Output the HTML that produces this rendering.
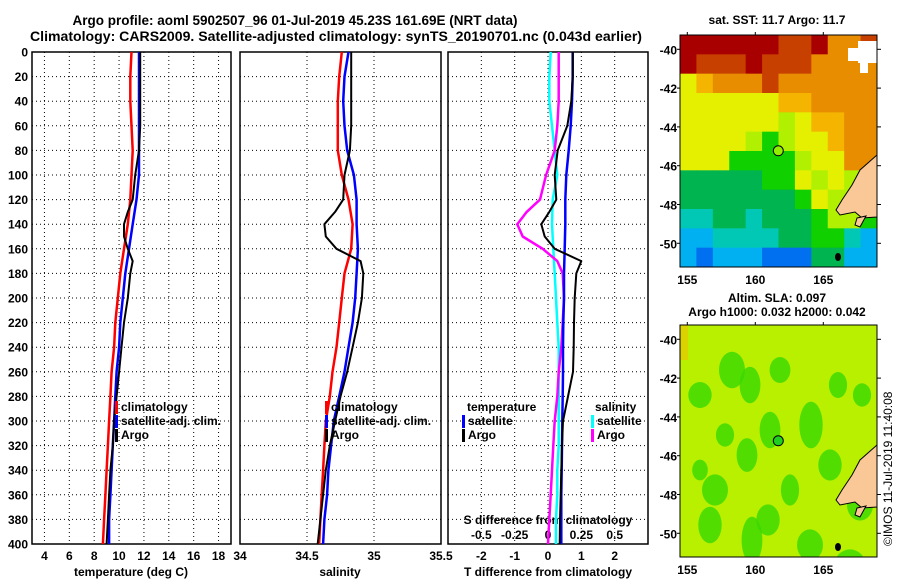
<!DOCTYPE html>
<html><head><meta charset="utf-8"><style>
body{margin:0;background:#fff}
svg{display:block;font-family:"Liberation Sans",sans-serif;font-weight:bold}
</style></head><body>
<svg id="c" width="900" height="580" viewBox="0 0 900 580">
<text x="295" y="25" text-anchor="middle" font-size="13.5">Argo profile: aoml 5902507_96 01-Jul-2019 45.23S 161.69E (NRT data)</text>
<text x="30" y="41" font-size="13.5" textLength="612" lengthAdjust="spacingAndGlyphs">Climatology: CARS2009. Satellite-adjusted climatology: synTS_20190701.nc (0.043d earlier)</text>
<text x="777" y="24" text-anchor="middle" font-size="12">sat. SST: 11.7 Argo: 11.7</text>
<text x="777" y="302" text-anchor="middle" font-size="12">Altim. SLA: 0.097</text>
<text x="777" y="316" text-anchor="middle" font-size="12">Argo h1000: 0.032 h2000: 0.042</text>
<text transform="translate(892,546) rotate(-90)" font-size="12" font-weight="normal">©IMOS 11-Jul-2019 11:40:08</text>
<g id="g"></g>
</svg>
<script>
// ---- data ----
const depths = [0,20,40,60,80,100,120,140,160,180,200,220,240,260,280,300,320,340,360,380,400];
const argoDepths = [0,20,40,60,80,100,120,130,140,150,160,170,180,200,220,240,260,280,300,320,340,360,380,400];
const tempClim = [11.0,10.9,10.9,11.0,11.1,11.0,10.9,10.7,10.4,10.1,9.9,9.7,9.6,9.4,9.3,9.2,9.1,9.0,8.9,8.8,8.7];
const tempSat = [11.6,11.6,11.6,11.6,11.6,11.6,11.4,11.1,10.8,10.5,10.3,10.1,10.0,9.8,9.7,9.6,9.5,9.4,9.3,9.2,9.2];
const tempArgo = [11.7,11.7,11.7,11.7,11.6,11.3,11.1,10.7,10.4,10.4,10.7,11.1,10.9,10.7,10.4,10.2,10.0,9.8,9.6,9.5,9.3,9.2,9.1,9.0];
const salClim = [34.76,34.74,34.73,34.73,34.73,34.76,34.81,34.84,34.83,34.78,34.76,34.74,34.72,34.69,34.67,34.64,34.63,34.62,34.61,34.60,34.59];
const salSat = [34.81,34.78,34.77,34.78,34.80,34.85,34.87,34.87,34.88,34.87,34.86,34.84,34.81,34.78,34.74,34.70,34.68,34.66,34.65,34.63,34.62];
const salArgo = [34.83,34.83,34.83,34.83,34.82,34.78,34.77,34.71,34.63,34.64,34.72,34.90,34.92,34.91,34.88,34.84,34.80,34.75,34.71,34.67,34.64,34.62,34.60,34.58];
const tDiffSat = [0.74,0.74,0.72,0.68,0.62,0.55,0.52,0.52,0.50,0.48,0.48,0.46,0.45,0.45,0.44,0.43,0.42,0.41,0.40,0.40,0.40];
const tDiffArgo = [0.74,0.74,0.70,0.58,0.29,0.20,0.25,0.04,-0.20,-0.10,0.20,1.00,0.85,0.80,0.78,0.77,0.75,0.60,0.45,0.42,0.40,0.38,0.36,0.35];
const sDiffSat = [0.02,0.01,0.01,0.03,0.05,0.07,0.035,0.03,0.04,0.05,0.06,0.07,0.08,0.08,0.08,0.08,0.08,0.07,0.07,0.06,0.06];
const sDiffArgo = [0.08,0.08,0.08,0.07,0.05,-0.014,-0.06,-0.16,-0.23,-0.19,-0.04,0.07,0.11,0.12,0.11,0.10,0.08,0.07,0.05,0.04,0.03,0.02,0.01,0.0];
const depthTicks = [0,20,40,60,80,100,120,140,160,180,200,220,240,260,280,300,320,340,360,380,400];
const tempTicks = [4,6,8,10,12,14,16,18];
const salTicks = [34,34.5,35,35.5];
const salTickLabels = ["34","34.5","35","35.5"];
const tdTicks = [-2,-1,0,1,2];
const sdTicks = [-0.5,-0.25,0,0.25,0.5];
const latTicks = [-40,-42,-44,-46,-48,-50];
const lonTicks = [155,160,165];
const argoLon = 161.69, argoLat = -45.23;

const NS="http://www.w3.org/2000/svg";
const G=document.getElementById('g');
function mk(tag,attrs,parent){const e=document.createElementNS(NS,tag);for(const k in attrs)e.setAttribute(k,attrs[k]);(parent||G).appendChild(e);return e;}
function txt(x,y,s,size,anchor,parent){const e=mk('text',{x:x,y:y,'font-size':size||12,'text-anchor':anchor||'middle'},parent);e.textContent=s;return e;}

const yTop=52,yBot=544;
const yD=d=>yTop+(d/400)*(yBot-yTop);
const panels=[{x0:32,x1:231,min:3,max:19},{x0:240,x1:441,min:34,max:35.5},{x0:448,x1:648,min:-3,max:3}];
function sx(p,v){return p.x0+(v-p.min)/(p.max-p.min)*(p.x1-p.x0);}

panels.forEach((p,i)=>{
  const grid=[tempTicks,[34.5,35],tdTicks][i];
  grid.forEach(v=>{const l=mk('line',{x1:sx(p,v),x2:sx(p,v),y1:yTop,y2:yBot,stroke:'#000','stroke-width':1,'stroke-dasharray':'1,3'});
    
    });
  depthTicks.slice(1,-1).forEach(d=>{const l=mk('line',{x1:p.x0,x2:p.x1,y1:yD(d),y2:yD(d),stroke:'#000','stroke-width':1,'stroke-dasharray':'1,3'});
    
    });
  const r=mk('rect',{x:p.x0,y:yTop,width:p.x1-p.x0,height:yBot-yTop,fill:'none',stroke:'#000','stroke-width':1.5});
  
  
});
depthTicks.forEach(d=>{const t=txt(28,yD(d)+4.5,String(d),12,'end');
  
  });
tempTicks.forEach(v=>{const t=txt(sx(panels[0],v),560,String(v),12);
  
  });
salTicks.forEach((v,i)=>{const t=txt(sx(panels[1],v),560,salTickLabels[i],12);
  
  });
tdTicks.forEach(v=>{const t=txt(sx(panels[2],v),560,String(v),12);
  
  });
const sp={x0:448,x1:648,min:-0.75,max:0.75};
sdTicks.forEach(v=>{const t=txt(sx(sp,v),539,String(v),12);
  
  });
let t;
t=txt(131,576,'temperature (deg C)',12);
t=txt(340,576,'salinity',12);
t=txt(548,576,'T difference from climatology',12);
t=txt(548,524,'S difference from climatology',12);

function line(p,vals,ds,color,w,name){
  const pts=vals.map((v,i)=>sx(p,v).toFixed(1)+','+yD(ds[i]).toFixed(1)).join(' ');
  const e=mk('polyline',{points:pts,fill:'none',stroke:color,'stroke-width':w,'stroke-linejoin':'round'});
  
  
}
line(panels[0],tempClim,depths,'#f00',2.5,'temp-climatology-line');
line(panels[0],tempSat,depths,'#00f',2.5,'temp-satellite-line');
line(panels[0],tempArgo,argoDepths,'#000',2,'temp-argo-line');
line(panels[1],salClim,depths,'#f00',2.5,'sal-climatology-line');
line(panels[1],salSat,depths,'#00f',2.5,'sal-satellite-line');
line(panels[1],salArgo,argoDepths,'#000',2,'sal-argo-line');
line(sp,sDiffSat,depths,'#0ff',2.5,'s-diff-satellite-line');
line(sp,sDiffArgo,argoDepths,'#f0f',2.5,'s-diff-argo-line');
line(panels[2],tDiffSat,depths,'#00f',2.5,'t-diff-satellite-line');
line(panels[2],tDiffArgo,argoDepths,'#000',2,'t-diff-argo-line');

function leg(x,y,color,label,name){
  const b=mk('rect',{x:x,y:y-10,width:3,height:13,fill:color});
  
  
  const tt=txt(x+6,y,label,12,'start');
  
  
}
leg(115,411,'#f00','climatology','legend-climatology');
leg(115,425,'#00f','satellite-adj. clim.','legend-satellite-adj');
leg(115,439,'#000','Argo','legend-argo');
leg(325,411,'#f00','climatology','legend-sal-climatology');
leg(325,425,'#00f','satellite-adj. clim.','legend-sal-satellite-adj');
leg(325,439,'#000','Argo','legend-sal-argo');
t=txt(467,411,'temperature',12,'start');
leg(462,425,'#00f','satellite','legend-t-satellite');
leg(462,439,'#000','Argo','legend-t-argo');
t=txt(595,411,'salinity',12,'start');
leg(591,425,'#0ff','satellite','legend-s-satellite');
leg(591,439,'#f0f','Argo','legend-s-argo');

// ---- maps ----
const lonX=l=>687.3+(l-155)*13.6;
const colors={R:'#a80000',r:'#c84000',o:'#e88c00',O:'#f4b400',y:'#e4f000',l:'#b0f000',g:'#10d000',G:'#00b450',t:'#00c8b4',c:'#00b0f0',b:'#0070f0',w:'#ffffff'};
const sstGrid=["RRRRRRrrRoor","RrrrRrrroooo","yOoooroooooo","yyyyyyOOoooo","yyyyyylyOOoo","yyyylglyyOoo","yyygggglyyoo","GGGGGggylyll","GGGGGGGgylll","ttGGtGGGgllg","ccttttGGggtc","cbcccbbbGGcc"];
function drawMap(y0,y1,name,isSst){
  const x0=680,x1=877;
  const latY=la=>y0+14.3+(-40-la)*19.4;
  const grp=mk('g',{});
  
  
  const cid='clip'+name;
  const cp=mk('clipPath',{id:cid},grp);mk('rect',{x:x0,y:y0,width:x1-x0,height:y1-y0},cp);
  const inner=mk('g',{'clip-path':'url(#'+cid+')'},grp);
  if(isSst){
    const cw=(x1-x0)/12,ch=(y1-y0)/12;
    sstGrid.forEach((row,r)=>{for(let c=0;c<12;c++){mk('rect',{x:x0+c*cw,y:y0+r*ch,width:cw+0.5,height:ch+0.5,fill:colors[row[c]]},inner);}});
    mk('rect',{x:858,y:y0+6,width:19,height:22,fill:'#fff'},inner);
    mk('rect',{x:848,y:y0+13,width:14,height:13,fill:'#fff'},inner);
    mk('rect',{x:860,y:y0+28,width:8,height:10,fill:'#fff'},inner);
  } else {
    mk('rect',{x:x0,y:y0,width:x1-x0,height:y1-y0,fill:'#b8f000'},inner);
    const blobs=[[732,45,10,14],[700,70,9,10],[750,60,8,14],[780,45,8,10],[811,100,9,18],[770,105,8,14],[747,130,8,13],[715,165,10,12],[790,165,7,12],[830,140,9,12],[768,195,9,12],[710,200,9,14],[752,215,8,18],[810,220,10,12],[850,240,12,12],[700,145,6,8],[838,60,7,10],[862,70,7,9],[725,110,7,9],[860,180,10,12]];
    blobs.forEach(b=>mk('ellipse',{cx:b[0],cy:y0+b[1],rx:b[2]*1.3,ry:b[3]*1.3,fill:'#38d800',opacity:0.8},inner));
    mk('rect',{x:x0,y:y0,width:8,height:35,fill:'#f0c000',opacity:0.6},inner);
  }
  const land=mk('polygon',{points:[[877,y0+120],[860,y0+135],[852,y0+150],[842,y0+165],[836,y0+175],[840,y0+180],[855,y0+177],[862,y0+183],[877,y0+182]].map(p=>p.join(',')).join(' '),fill:'#f9c896',stroke:'#000','stroke-width':1},inner);
  
  
  mk('polygon',{points:`857,${y0+183} 866,${y0+181} 860,${y0+192} 855,${y0+190}`,fill:'#f9c896',stroke:'#000','stroke-width':1},inner);
  mk('ellipse',{cx:838,cy:y0+222,rx:3,ry:4,fill:'#000'},inner);
  mk('rect',{x:x0,y:y0,width:x1-x0,height:y1-y0,fill:'none',stroke:'#000','stroke-width':1},grp);
  latTicks.forEach(la=>{const yy=latY(la);mk('line',{x1:x1,x2:x1+4,y1:yy,y2:yy,stroke:'#000'},grp);mk('line',{x1:x0-3,x2:x0,y1:yy,y2:yy,stroke:'#000'},grp);
    const tl=txt(677,yy+5,String(la),12,'end',grp);
    
    });
  lonTicks.forEach(lo=>{const xx=lonX(lo);mk('line',{x1:xx,x2:xx,y1:y0-3,y2:y0,stroke:'#000'},grp);
    const tl=txt(xx,y1+17,String(lo),12,'middle',grp);
    
    });
  const m=mk('circle',{cx:lonX(argoLon),cy:latY(argoLat),r:5,fill:isSst?'#90f000':'#20d020',stroke:'#000','stroke-width':1},grp);
  
  
}
drawMap(35,267,'sst-map',true);
drawMap(325,557,'sla-map',false);
</script>
</body></html>
